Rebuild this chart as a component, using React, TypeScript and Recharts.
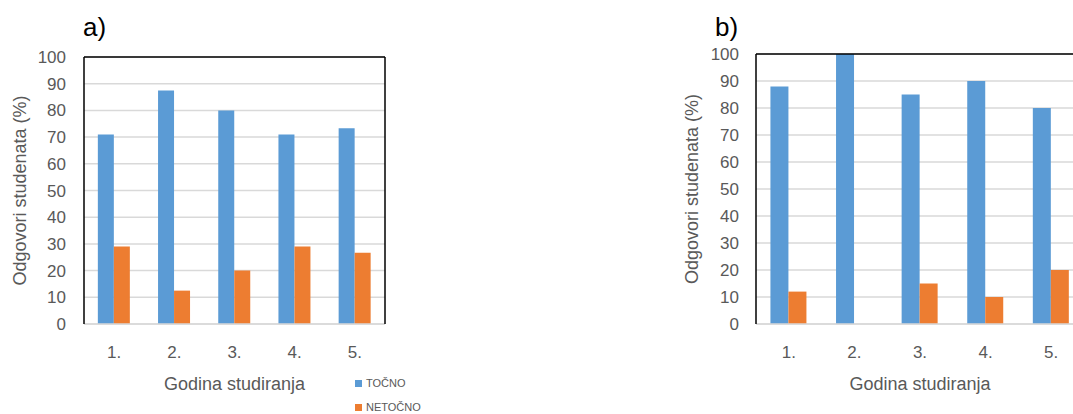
import React from 'react';
import { BarChart, Bar, XAxis, YAxis, CartesianGrid, Legend } from 'recharts';

const categories = ['1.', '2.', '3.', '4.', '5.'];
const tocnoA = [71, 87.5, 80, 71, 73.3];
const netocnoA = [29, 12.5, 20, 29, 26.7];
const tocnoB = [88, 100, 85, 90, 80];
const netocnoB = [12, 0, 15, 10, 20];
const yTicks = [0, 10, 20, 30, 40, 50, 60, 70, 80, 90, 100];
const seriesNames = ['TOČNO', 'NETOČNO'];
const yLabel = 'Odgovori studenata (%)';
const xLabel = 'Godina studiranja';

const BLUE = '#5b9bd5';
const ORANGE = '#ed7d31';
const TEXT = '#595959';
const FONT = '"Liberation Sans", Arial, sans-serif';

const dataA = categories.map((c, i) => ({ cat: c, t: tocnoA[i], n: netocnoA[i] }));
const dataB = categories.map((c, i) => ({ cat: c, t: tocnoB[i], n: netocnoB[i] }));

const LegendContent = (props: any) => {
  const payload = [...(props.payload || [])].sort(
    (a: any, b: any) => seriesNames.indexOf(a.value) - seriesNames.indexOf(b.value)
  );
  return (
    <div style={{ fontFamily: FONT, fontSize: 11, color: TEXT }}>
      {payload.map((p: any) => (
        <div key={p.value} style={{ display: 'flex', alignItems: 'center', height: 24 }}>
          <span style={{ display: 'inline-block', width: 7, height: 7, background: p.color, marginRight: 4 }} />
          <span>{p.value}</span>
        </div>
      ))}
    </div>
  );
};

type PanelProps = {
  data: any[];
  width: number;
  top: number;
  right: number;
  yAxisWidth: number;
  labelOffset: number;
  tickMargin: number;
  gap: string;
  legend?: boolean;
};

const Panel = ({ data, width, top, right, yAxisWidth, labelOffset, tickMargin, gap, legend }: PanelProps) => (
  <BarChart
    width={width}
    height={414}
    data={data}
    margin={{ top: top - 1, right: right - 1, bottom: 0, left: 0 }}
    barCategoryGap={gap}
    barGap={0}
    style={{ fontFamily: FONT }}
  >
    <CartesianGrid vertical={false} stroke="#d9d9d9" strokeWidth={1.5} />
    <XAxis
      dataKey="cat"
      height={90}
      axisLine={{ stroke: '#d9d9d9', strokeWidth: 1.5 }}
      tickLine={false}
      tickSize={0}
      tickMargin={22}
      tick={{ fill: TEXT, fontSize: 17 }}
      label={{ value: xLabel, position: 'insideBottom', offset: 24, fill: TEXT, fontSize: 18 }}
    />
    <XAxis
      xAxisId="top"
      dataKey="cat"
      orientation="top"
      height={1}
      tick={false}
      tickLine={false}
      axisLine={{ stroke: '#000', strokeWidth: 1.5 }}
    />
    <YAxis
      domain={[0, 100]}
      ticks={yTicks}
      width={yAxisWidth}
      axisLine={{ stroke: '#000', strokeWidth: 1.5 }}
      tickLine={false}
      tickSize={0}
      tickMargin={tickMargin}
      interval={0}
      tick={{ fill: TEXT, fontSize: 17 }}
      label={{ value: yLabel, angle: -90, position: 'insideLeft', offset: labelOffset, fill: TEXT, fontSize: 18, style: { textAnchor: 'middle' } }}
    />
    <YAxis
      yAxisId="right"
      orientation="right"
      domain={[0, 100]}
      width={1}
      tick={false}
      tickLine={false}
      axisLine={{ stroke: '#000', strokeWidth: 1.5 }}
    />
    <Bar dataKey="t" name={seriesNames[0]} fill={BLUE} isAnimationActive={false} />
    <Bar dataKey="n" name={seriesNames[1]} fill={ORANGE} isAnimationActive={false} />
    {legend && (
      <Legend
        layout="vertical"
        align="center"
        verticalAlign="middle"
        content={LegendContent}
        wrapperStyle={{ left: 355, top: 371, width: 100, height: 48 }}
      />
    )}
  </BarChart>
);

export default function App() {
  return (
    <div style={{ position: 'fixed', left: 0, top: 0, width: 1073, height: 414, overflow: 'hidden', background: '#fff' }}>
      <div style={{ position: 'absolute', left: 0, top: 0 }}>
        <Panel data={dataA} width={440} top={57} right={55} yAxisWidth={84} labelOffset={20} tickMargin={18} gap="23%" legend />
      </div>
      <div style={{ position: 'absolute', left: 660, top: 0 }}>
        <Panel data={dataB} width={440} top={54} right={16} yAxisWidth={96} labelOffset={32} tickMargin={17} gap="22%" />
      </div>
      <svg width={1073} height={414} style={{ position: 'absolute', left: 0, top: 0, pointerEvents: 'none' }}>
        <text x={83} y={36} fontSize={26} fill="#000" fontFamily={FONT}>a)</text>
        <text x={715} y={36} fontSize={26} fill="#000" fontFamily={FONT}>b)</text>
      </svg>
    </div>
  );
}
